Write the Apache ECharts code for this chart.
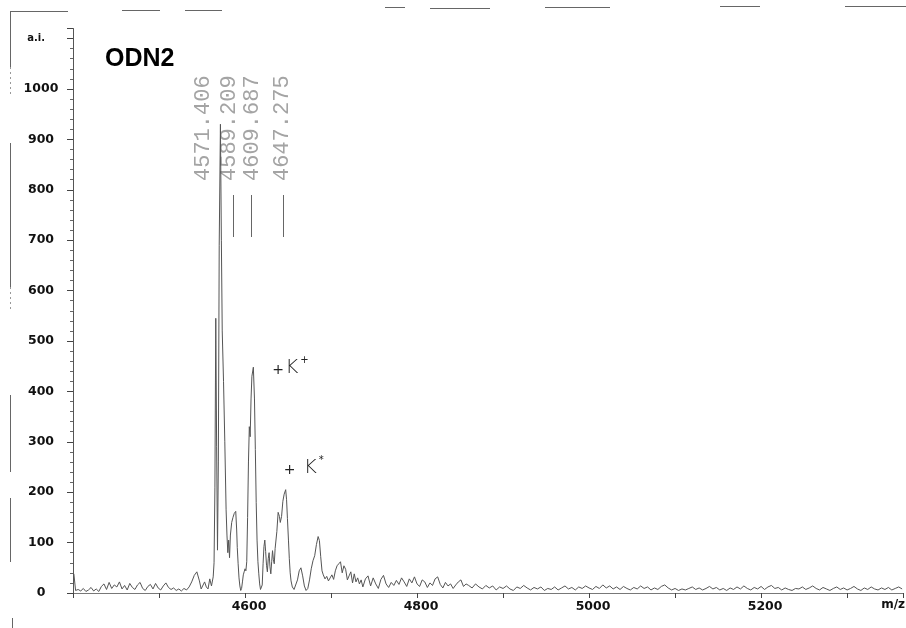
<!DOCTYPE html>
<html>
<head>
<meta charset="utf-8">
<title>ODN2</title>
<script src="https://cdn.jsdelivr.net/npm/echarts@6/dist/echarts.min.js"></script>
<style>
  html, body { margin: 0; padding: 0; background: #ffffff; }
  #chart { width: 906px; height: 628px; }
</style>
</head>
<body>
<div id="chart"></div>
<script>
// MALDI spectrum of ODN2: [m/z, intensity (a.i.)]
const lowMassNoise = [
  [4401, 38], [4403, 5], [4406, 7], [4409, 4], [4412, 9], [4415, 3], [4418, 6], [4421, 11],
  [4424, 4], [4427, 8], [4430, 3], [4433, 13], [4436, 18], [4439, 7], [4442, 21], [4445, 9],
  [4448, 16], [4451, 12], [4454, 22], [4457, 8], [4460, 15], [4463, 6], [4466, 19], [4469, 11],
  [4472, 7], [4475, 16], [4478, 21], [4481, 9], [4484, 5], [4487, 13], [4490, 17], [4493, 8],
  [4496, 19], [4499, 10], [4502, 6], [4505, 14], [4508, 20], [4511, 11], [4514, 7], [4517, 10],
  [4520, 5], [4523, 8], [4526, 4], [4529, 9], [4532, 6], [4535, 12], [4538, 22], [4541, 35],
  [4544, 42], [4547, 24], [4549, 8], [4551, 6], [4553, 22], [4555, 12]
];

const clusterTrace = [
  [4557, 8], [4559, 28], [4561, 14], [4563, 32], [4564, 60], [4565, 210], [4566, 545], [4567, 290],
  [4568, 85], [4569, 260], [4570, 690], [4571.406, 930], [4572.5, 700], [4573.5, 520], [4575, 420],
  [4576.5, 300], [4578, 165], [4579, 115], [4580, 80], [4581, 105], [4582, 70], [4583, 115],
  [4584.5, 140], [4586, 150], [4587.5, 158], [4589.209, 162], [4590.3, 125], [4591, 90], [4592, 58],
  [4593, 30], [4594, 14], [4595, 5], [4596, 9], [4597, 22], [4598, 36], [4599, 42], [4600, 48],
  [4601, 44], [4602, 62], [4603, 150], [4604, 260], [4605, 330], [4606, 310], [4607, 385], [4608, 430],
  [4609.687, 448], [4611, 385], [4612, 285], [4613, 180], [4614, 105], [4615, 62], [4616, 38],
  [4617, 18], [4618, 7], [4619, 5], [4620, 16], [4621, 58], [4622, 92], [4623, 105], [4624, 82],
  [4625, 55], [4626, 42], [4627, 68], [4628, 80], [4629, 52], [4630, 38], [4631, 62], [4632, 84],
  [4633, 66], [4634, 58], [4635, 88], [4637, 122], [4638.5, 160], [4640, 152], [4641, 140],
  [4642.5, 152], [4644, 182], [4645.5, 196], [4647.275, 205], [4648.3, 185], [4649.3, 148],
  [4650.5, 105], [4651.5, 68], [4652.5, 40], [4653.5, 24], [4655, 12], [4657, 7], [4659, 10],
  [4661, 26], [4663, 44], [4665, 50], [4667, 34], [4669, 14], [4671, 5], [4673, 9], [4675, 26],
  [4677, 48], [4679, 64], [4681, 74], [4683, 96], [4685, 112], [4686.5, 104], [4688, 72],
  [4689.5, 44], [4691, 36], [4693, 28], [4695, 33], [4697, 24], [4699, 30]
];

const tailTrace = [
  [4701, 36], [4703, 27], [4705, 44], [4707, 54], [4709, 58], [4711, 62], [4713, 40], [4715, 54],
  [4717, 47], [4719, 26], [4721, 34], [4723, 42], [4725, 20], [4727, 38], [4729, 22], [4731, 30],
  [4733, 18], [4735, 26], [4737, 12], [4740, 28], [4743, 34], [4746, 14], [4749, 30], [4752, 18],
  [4755, 9], [4758, 27], [4761, 35], [4764, 18], [4767, 11], [4770, 21], [4773, 15], [4776, 25],
  [4779, 17], [4782, 30], [4785, 22], [4788, 13], [4791, 28], [4794, 20], [4797, 32], [4800, 18],
  [4803, 13], [4806, 26], [4809, 22], [4812, 11], [4815, 20], [4818, 15], [4821, 28], [4824, 32],
  [4827, 17], [4830, 10], [4833, 21], [4836, 14], [4839, 18], [4842, 9], [4845, 16], [4848, 22],
  [4851, 26], [4854, 13], [4857, 18]
];

const highMassNoise = [
  [4860, 15], [4864, 10], [4868, 18], [4872, 12], [4876, 8], [4880, 15], [4884, 10], [4888, 14],
  [4892, 6], [4896, 12], [4900, 9], [4904, 14], [4908, 8], [4912, 5], [4916, 12], [4920, 9],
  [4924, 15], [4928, 10], [4932, 6], [4936, 11], [4940, 8], [4944, 12], [4948, 5], [4952, 9],
  [4956, 7], [4960, 12], [4964, 6], [4968, 10], [4972, 14], [4976, 8], [4980, 11], [4984, 6],
  [4988, 12], [4992, 9], [4996, 14], [5000, 10], [5004, 7], [5008, 13], [5012, 9], [5016, 16],
  [5020, 10], [5024, 14], [5028, 8], [5032, 12], [5036, 7], [5040, 13], [5044, 9], [5048, 6],
  [5052, 11], [5056, 8], [5060, 14], [5064, 9], [5068, 12], [5072, 6], [5076, 10], [5080, 7],
  [5084, 13], [5088, 16], [5092, 10], [5096, 6], [5100, 9], [5104, 5], [5108, 8], [5112, 6],
  [5116, 9], [5120, 12], [5124, 7], [5128, 10], [5132, 6], [5136, 9], [5140, 13], [5144, 8],
  [5148, 11], [5152, 6], [5156, 9], [5160, 5], [5164, 10], [5168, 7], [5172, 12], [5176, 8],
  [5180, 14], [5184, 9], [5188, 6], [5192, 11], [5196, 8], [5200, 13], [5204, 7], [5208, 12],
  [5212, 15], [5216, 9], [5220, 11], [5224, 6], [5228, 10], [5232, 7], [5236, 5], [5240, 9],
  [5244, 8], [5248, 12], [5252, 7], [5256, 10], [5260, 14], [5264, 9], [5268, 6], [5272, 11],
  [5276, 8], [5280, 5], [5284, 9], [5288, 12], [5292, 7], [5296, 10], [5300, 6], [5304, 9],
  [5308, 13], [5312, 8], [5316, 5], [5320, 10], [5324, 7], [5328, 12], [5332, 8], [5336, 6],
  [5340, 10], [5344, 7], [5348, 11], [5352, 6], [5356, 9], [5360, 12], [5364, 8]
];

// labelled peak masses
const peakMasses = [4571.406, 4589.209, 4609.687, 4647.275];
// masses of the potassium adduct peaks
const adductMasses = [4609.687, 4647.275];

const xLabelValues = [4600, 4800, 5000, 5200];
const yMaxLabel = 1000;

const spectrum = lowMassNoise.concat(clusterTrace, tailTrace, highMassNoise);

const axisFont = {
  fontFamily: 'DejaVu Sans',
  fontWeight: 'bold',
  fontSize: 12.5,
  color: '#111'
};

const chart = echarts.init(document.getElementById('chart'), null, { renderer: 'canvas' });

const option = {
  animation: false,
  backgroundColor: '#ffffff',
  grid: { left: 73, right: 0, top: 28.5, bottom: 35 },
  xAxis: {
    type: 'value',
    min: 4400,
    max: 5365,
    interval: 100,
    axisLine: { show: true, lineStyle: { color: '#777', width: 1 } },
    axisTick: { show: true, length: 5, lineStyle: { color: '#444' } },
    splitLine: { show: false },
    axisLabel: Object.assign({
      margin: 7,
      padding: [0, 0, 0, 8],
      formatter: v => (xLabelValues.indexOf(v) >= 0 ? String(v) : '')
    }, axisFont)
  },
  yAxis: {
    type: 'value',
    min: 0,
    max: 1120,
    interval: 100,
    name: 'a.i.',
    nameLocation: 'end',
    nameGap: -10,
    nameTextStyle: {
      fontFamily: 'DejaVu Sans', fontWeight: 'bold', fontSize: 10, color: '#111',
      align: 'right', verticalAlign: 'middle', padding: [0, 28, 0, 0]
    },
    axisLine: { show: true, lineStyle: { color: '#555', width: 1 } },
    axisTick: { show: true, length: 6, lineStyle: { color: '#444' } },
    minorTick: { show: true, splitNumber: 5, length: 3, lineStyle: { color: '#666' } },
    splitLine: { show: false },
    axisLabel: Object.assign({
      margin: 32,
      align: 'center',
      formatter: v => (v <= yMaxLabel ? String(v) : '')
    }, axisFont)
  },
  series: [{
    type: 'line',
    data: spectrum,
    showSymbol: false,
    symbol: 'none',
    smooth: false,
    lineStyle: { color: '#555', width: 1 },
    emphasis: { disabled: true }
  }]
};

chart.setOption(option);

// peak mass labels (vertical), leader ticks, annotations and the page frame
const labelShift = [-17, -7, -1.5, -3.5];
const graphics = [];

graphics.push({
  type: 'text', x: 105, y: 59, silent: true,
  style: {
    text: 'ODN2', fontFamily: 'Liberation Sans', fontWeight: 'bold', fontSize: 25,
    fill: '#000', align: 'left', verticalAlign: 'middle'
  }
});

peakMasses.forEach((mz, i) => {
  const px = chart.convertToPixel({ xAxisIndex: 0 }, mz);
  graphics.push({
    type: 'text', x: px + labelShift[i], y: 181, rotation: Math.PI / 2, silent: true,
    style: {
      text: mz.toFixed(3), fontFamily: 'Liberation Mono', fontSize: 22,
      fill: '#a4a4a4', align: 'left', verticalAlign: 'middle'
    }
  });
  if (i > 0) {
    const lx = Math.round(px - 2.5) + 0.5;
    graphics.push({
      type: 'line', silent: true,
      shape: { x1: lx, y1: 195, x2: lx, y2: 237 },
      style: { stroke: '#666', lineWidth: 1 }
    });
  }
});

// hand-written "+K+" marks beside the potassium adduct peaks
adductMasses.forEach((mz, i) => {
  const px = chart.convertToPixel({ xAxisIndex: 0 }, mz);
  const baseY = i === 0 ? 368 : 468;
  const plusX = i === 0 ? px + 19 : px - 2;
  const kX = i === 0 ? px + 32 : px + 18;
  graphics.push({
    type: 'text', x: plusX, y: baseY + 2, silent: true,
    style: { text: '+', fontFamily: 'DejaVu Sans', fontSize: 14, fill: '#222',
      align: 'left', verticalAlign: 'middle' }
  });
  graphics.push({
    type: 'text', x: kX, y: baseY, silent: true,
    style: { text: 'K', fontFamily: 'DejaVu Sans', fontWeight: 'lighter', fontSize: 20, fill: '#222',
      align: 'left', verticalAlign: 'middle' }
  });
  graphics.push({
    type: 'text', x: kX + 15, y: baseY - 8, silent: true,
    style: { text: i === 0 ? '+' : '*', fontFamily: 'DejaVu Sans', fontSize: 10, fill: '#222',
      align: 'left', verticalAlign: 'middle' }
  });
});

// x-axis caption
graphics.push({
  type: 'text', x: 905, y: 605, silent: true,
  style: { text: 'm/z', fontFamily: 'DejaVu Sans', fontWeight: 'bold', fontSize: 12,
    fill: '#111', align: 'right', verticalAlign: 'middle' }
});

// page frame remnants along the top and left edges
const frameSegments = [
  [10, 11.5, 68, 11.5], [122, 10.5, 160, 10.5], [185, 10.5, 222, 10.5],
  [385, 7.5, 405, 7.5], [430, 8.5, 490, 8.5], [545, 7.5, 610, 7.5],
  [720, 6.5, 760, 6.5], [845, 6.5, 906, 6.5],
  [10.5, 11, 10.5, 67], [10.5, 143, 10.5, 287], [10.5, 395, 10.5, 472],
  [10.5, 498, 10.5, 562], [12.5, 618, 12.5, 628]
];
frameSegments.forEach(s => {
  graphics.push({
    type: 'line', silent: true,
    shape: { x1: s[0], y1: s[1], x2: s[2], y2: s[3] },
    style: { stroke: '#666', lineWidth: 1 }
  });
});
[[10.5, 67, 10.5, 97], [10.5, 287, 10.5, 310]].forEach(s => {
  graphics.push({
    type: 'line', silent: true,
    shape: { x1: s[0], y1: s[1], x2: s[2], y2: s[3] },
    style: { stroke: '#999', lineWidth: 1, lineDash: [2, 3] }
  });
});

chart.setOption({ graphic: graphics });
</script>
</body>
</html>
